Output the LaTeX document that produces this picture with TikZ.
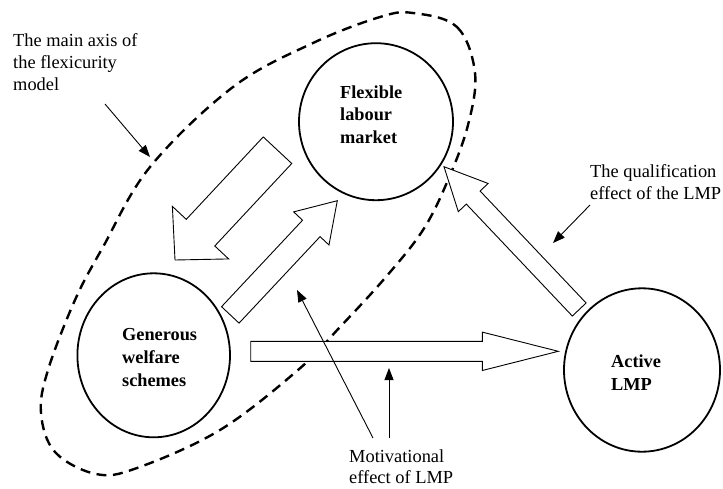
\documentclass[tikz,border=0pt]{standalone}
\usepackage{fontspec}
\setmainfont{Liberation Serif}
\usetikzlibrary{calc,arrows.meta,shapes.geometric}
% #1 tail, #2 tip, #3 half shaft width, #4 half head width, #5 head length
\newcommand\hollowarrow[5]{%
  \coordinate (#1-neck) at ($(#2)!#5!(#1)$);
  \draw[blockarrow]
    ($(#1)!#3!90:(#2)$) -- ($(#1-neck)!#3!-90:(#1)$) -- ($(#1-neck)!#4!-90:(#1)$)
    -- (#2) -- ($(#1-neck)!#4!90:(#1)$) -- ($(#1-neck)!#3!90:(#1)$)
    -- ($(#1)!#3!-90:(#2)$) -- cycle;
}
\begin{document}
\begin{tikzpicture}[x=1pt,y=-1pt,
  circ/.style={ellipse, draw, line width=1.8pt, inner sep=0pt},
  lbl/.style={anchor=north west, inner sep=0pt, align=left, font=\fontsize{18.4}{22}\selectfont},
  blbl/.style={anchor=north west, inner sep=0pt, align=left, font=\fontsize{18.3}{23}\selectfont\bfseries},
  blockarrow/.style={draw, fill=white, line width=0.9pt, line join=miter},
  pointer/.style={draw, line width=0.9pt, -{Triangle[length=12pt,width=9pt]}},
  axisline/.style={draw, line width=2.4pt, dash pattern=on 10pt off 6.5pt}]
\useasboundingbox (0,0) rectangle (723,488);
\fill[white] (0,0) rectangle (723,488);

% dashed main axis
\draw[axisline] plot[smooth cycle, tension=0.6] coordinates {
  (413,13) (457,27) (475,73) (468,125) (448,180) (423,230) (385,278)
  (340,327) (298,370) (220,430) (137,468) (96,474) (55,452) (41,413)
  (48,370) (75,300) (103,247) (150,167) (233,87) (313,43) (380,17)};

% block arrows
\coordinate (fg-tail) at (277.5,150.2);
\coordinate (fg-tip) at (175,260);
\hollowarrow{fg-tail}{fg-tip}{19.5pt}{38.5pt}{37.4pt}
\coordinate (gf-tail) at (230.3,314.9);
\coordinate (gf-tip) at (337.3,200.7);
\hollowarrow{gf-tail}{gf-tip}{12pt}{24.2pt}{38pt}
\coordinate (ga-tail) at (250.7,351.3);
\coordinate (ga-tip) at (558.3,351.3);
\hollowarrow{ga-tail}{ga-tip}{10pt}{19.2pt}{76pt}
\coordinate (af-tail) at (579.2,309.5);
\coordinate (af-tip) at (444,166.7);
\hollowarrow{af-tail}{af-tip}{9.5pt}{20.5pt}{42.5pt}

% circles
\node[circ, minimum width=154pt, minimum height=157pt] (flex) at (376,121.7) {};
\node[circ, minimum width=152.6pt, minimum height=164pt] (gen) at (153.7,355.3) {};
\node[circ, minimum width=156pt, minimum height=163.4pt] (act) at (642,370) {};

% texts in circles
\node[blbl, font=\fontsize{18.3}{22.5}\selectfont\bfseries] (flextext) at (340,85.5) {Flexible\\labour\\market};
\node[blbl] (gentext) at (122,328.5) {Generous\\welfare\\schemes};
\node[blbl] (acttext) at (611,354.5) {Active\\LMP};

% labels
\node[lbl] (axislabel) at (13,33.5) {The main axis of\\the flexicurity\\model};
\node[lbl] (quallabel) at (590,164.5) {The qualification\\effect of the LMP};
\node[lbl, font=\fontsize{18.4}{21}\selectfont] (motlabel) at (349,449.5) {Motivational\\effect of LMP};

% pointers
\coordinate (axisfrom) at (105,104);
\coordinate (axisto) at (150,157);
\draw[pointer] (axisfrom) -- (axisto);
\coordinate (qualfrom) at (590,205);
\coordinate (qualto) at (553,243);
\draw[pointer] (qualfrom) -- (qualto);
\coordinate (motfromA) at (373,438);
\coordinate (mottoA) at (297,290);
\draw[pointer] (motfromA) -- (mottoA);
\coordinate (motfromB) at (389,438);
\coordinate (mottoB) at (389,368);
\draw[pointer] (motfromB) -- (mottoB);
\end{tikzpicture}
\end{document}
